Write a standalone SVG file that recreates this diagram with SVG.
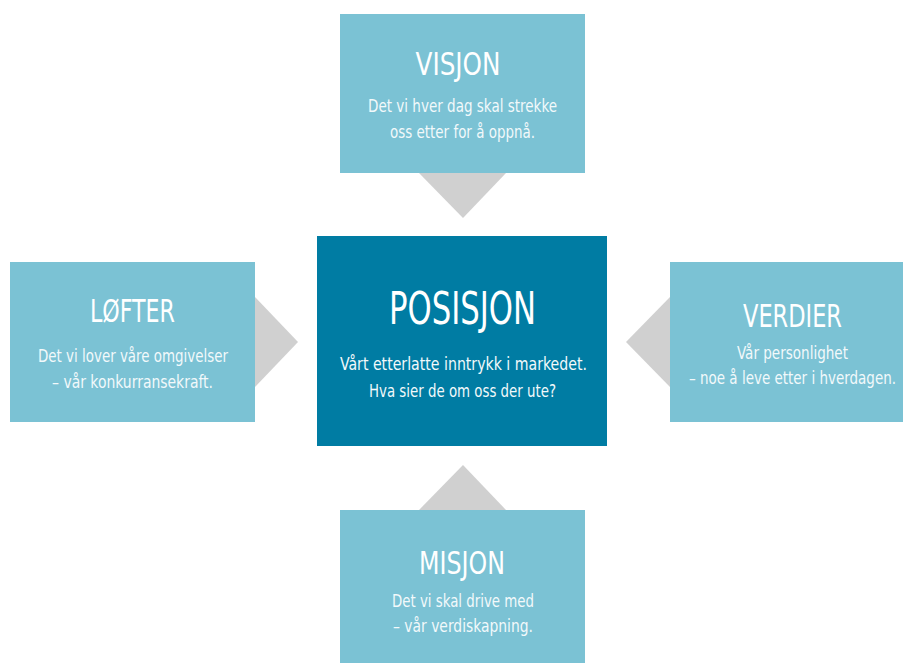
<svg xmlns="http://www.w3.org/2000/svg" width="903" height="663" viewBox="0 0 903 663">
<style>
.box{fill:#7bc2d4}
.center{fill:#007ca3}
.arrow{fill:#d0d0d0}
text{font-family:"DejaVu Sans Condensed","DejaVu Sans","Liberation Sans",sans-serif;font-stretch:condensed;fill:#ffffff;text-anchor:middle}
.title{font-size:32px}
.big{font-size:45px}
.body{font-size:18px;fill:#f2f9fb}
.end{text-anchor:end}
</style>
<rect width="903" height="663" fill="#ffffff"/>
<g id="connectors">
<polygon class="arrow" points="419,173 506,173 463,218"/>
<polygon class="arrow" points="255,297 298,342 255,387"/>
<polygon class="arrow" points="670,297 626,342 670,387"/>
<polygon class="arrow" points="419,510 506,510 463,465"/>
</g>
<g id="visjon">
<rect class="box" x="340" y="14" width="245" height="159"/>
<text class="title" x="458" y="75" textLength="85" lengthAdjust="spacingAndGlyphs">VISJON</text>
<text class="body" x="462.5" y="112" textLength="189" lengthAdjust="spacingAndGlyphs">Det vi hver dag skal strekke</text>
<text class="body" x="462.5" y="138" textLength="145" lengthAdjust="spacingAndGlyphs">oss etter for å oppnå.</text>
</g>
<g id="posisjon">
<rect class="center" x="317" y="236" width="290" height="210"/>
<text class="big" x="462.5" y="324" textLength="147" lengthAdjust="spacingAndGlyphs">POSISJON</text>
<text class="body" x="463.5" y="370" textLength="247" lengthAdjust="spacingAndGlyphs">Vårt etterlatte inntrykk i markedet.</text>
<text class="body" x="462.5" y="397" textLength="187" lengthAdjust="spacingAndGlyphs">Hva sier de om oss der ute?</text>
</g>
<g id="lofter">
<rect class="box" x="10" y="262" width="245" height="160"/>
<text class="title" x="132.5" y="322" textLength="85" lengthAdjust="spacingAndGlyphs">LØFTER</text>
<text class="body" x="133" y="362" textLength="190" lengthAdjust="spacingAndGlyphs">Det vi lover våre omgivelser</text>
<text class="body" x="132.5" y="388" textLength="161" lengthAdjust="spacingAndGlyphs">– vår konkurransekraft.</text>
</g>
<g id="verdier">
<rect class="box" x="670" y="262" width="233" height="160"/>
<text class="title" x="792.5" y="327" textLength="99" lengthAdjust="spacingAndGlyphs">VERDIER</text>
<text class="body" x="792.5" y="359" textLength="111" lengthAdjust="spacingAndGlyphs">Vår personlighet</text>
<text class="body end" x="896" y="384" textLength="207" lengthAdjust="spacingAndGlyphs">– noe å leve etter i hverdagen.</text>
</g>
<g id="misjon">
<rect class="box" x="340" y="510" width="245" height="153"/>
<text class="title" x="462" y="574" textLength="86" lengthAdjust="spacingAndGlyphs">MISJON</text>
<text class="body" x="463" y="607" textLength="142" lengthAdjust="spacingAndGlyphs">Det vi skal drive med</text>
<text class="body" x="463" y="632" textLength="140" lengthAdjust="spacingAndGlyphs">– vår verdiskapning.</text>
</g>
</svg>
